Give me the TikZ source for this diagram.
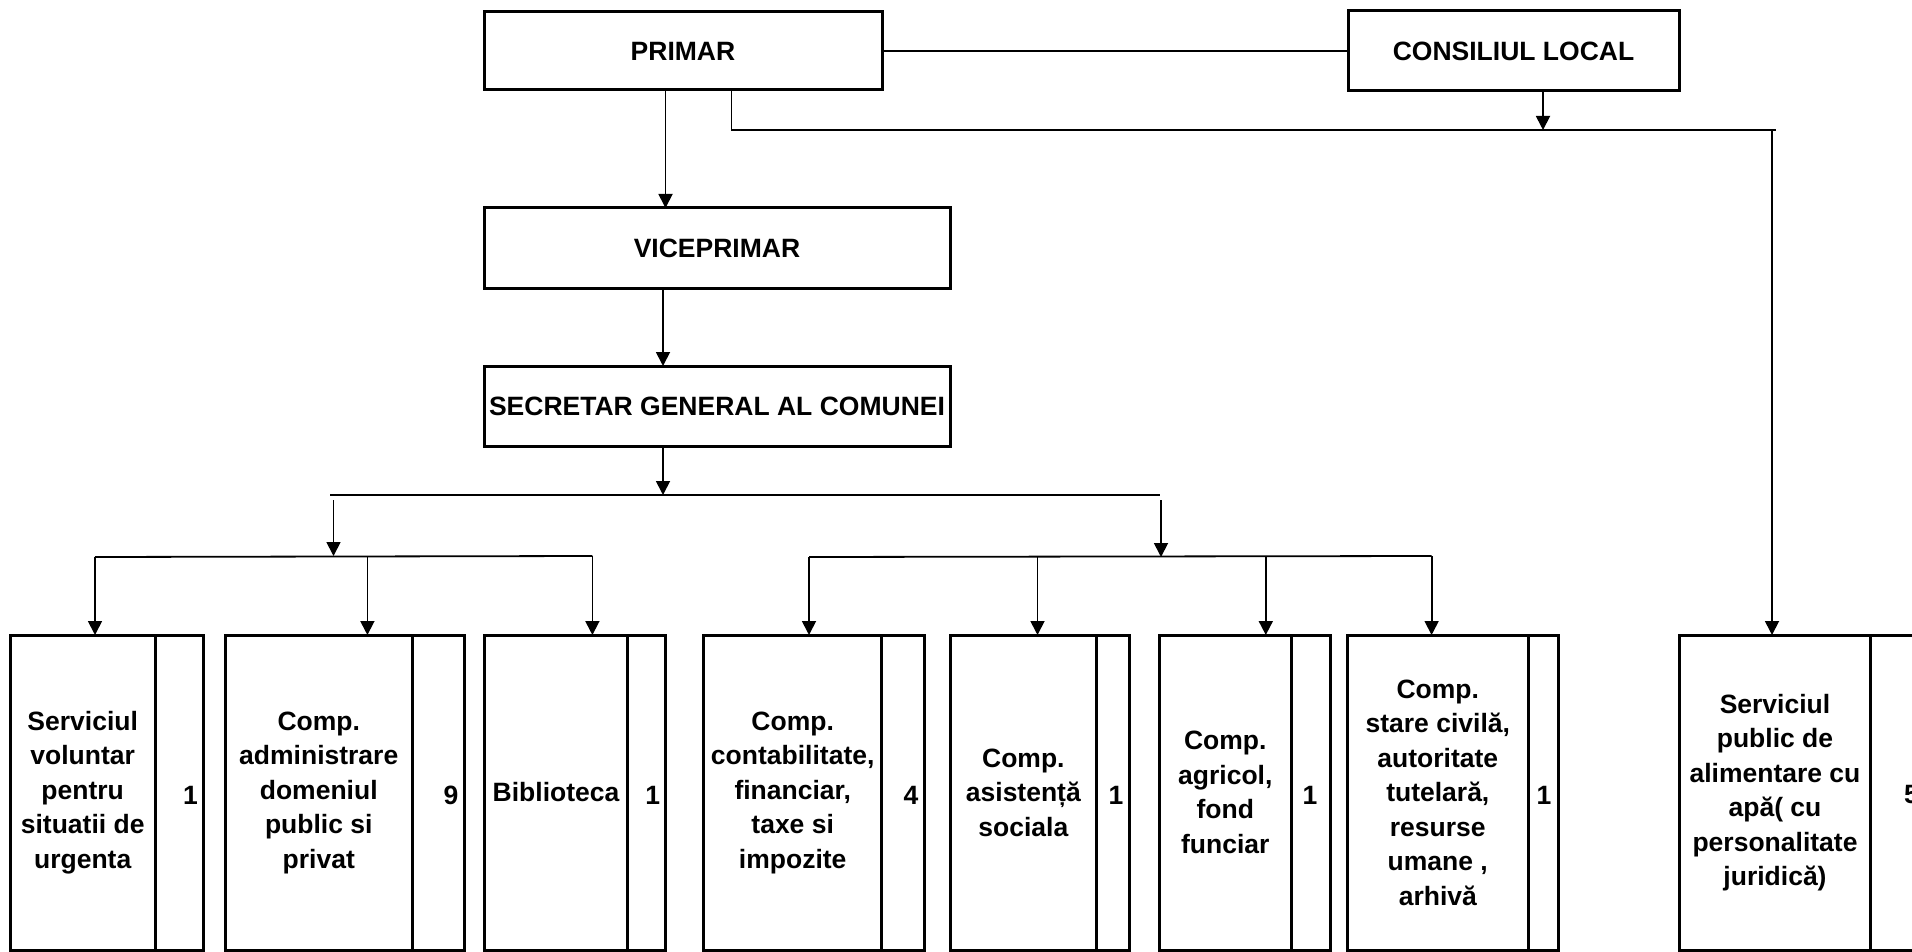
\documentclass[tikz,border=0pt]{standalone}
\usepackage{fontspec}
\setmainfont{Liberation Sans}
\usetikzlibrary{arrows.meta}
\begin{document}
\begin{tikzpicture}[x=1pt,y=-1pt,
  box/.style={draw, line width=3pt, inner sep=0pt, outer sep=0pt, anchor=north west, align=center,
              font=\fontsize{26.5}{34.5}\selectfont\bfseries},
  num/.style={inner sep=0pt, font=\fontsize{26.5}{34.5}\selectfont\bfseries},
  conn/.style={line width=1.8pt},
  arr/.style={conn, -{Triangle[length=14pt,width=14pt]}}]
\useasboundingbox[fill=white] (0,0) rectangle (1912,952);

% top boxes
\node[box, minimum width=398pt, minimum height=78pt] (primar) at (484,12) {PRIMAR};
\node[box, minimum width=331pt, minimum height=80pt] (consiliu) at (1348,11) {CONSILIUL LOCAL};
\node[box, minimum width=466pt, minimum height=80pt] (vice) at (484,208) {VICEPRIMAR};
\node[box, minimum width=466pt, minimum height=80pt] (secretar) at (484,366) {SECRETAR GENERAL AL COMUNEI};

% bottom boxes
\node[box, minimum width=145.4pt, minimum height=315pt] (s1) at (10,635) {Serviciul\\voluntar\\pentru\\situatii de\\urgenta};
\node[box, minimum width=48.2pt, minimum height=315pt] (c1) at (155.4,635) {};
\node[num] (t1) at (190.6,795) {1};

\node[box, minimum width=187.5pt, minimum height=315pt] (s2) at (225,635) {Comp.\\administrare\\domeniul\\public si\\privat};
\node[box, minimum width=52.2pt, minimum height=315pt] (c2) at (412.5,635) {};
\node[num] (t2) at (451,795) {9};

\node[box, minimum width=143.3pt, minimum height=315pt] (s3) at (484.4,635) {Biblioteca};
\node[box, minimum width=37.3pt, minimum height=315pt] (c3) at (627.7,635) {};
\node[num] (t3) at (652.7,795) {1};

\node[box, minimum width=178.4pt, minimum height=315pt] (s4) at (703.5,635) {Comp.\\contabilitate,\\financiar,\\taxe si\\impozite};
\node[box, minimum width=42.1pt, minimum height=315pt] (c4) at (881.9,635) {};
\node[num] (t4) at (911,795) {4};

\node[box, minimum width=145.3pt, minimum height=315pt] (s5) at (950.7,635) {Comp.\\asistență\\sociala};
\node[box, minimum width=33.6pt, minimum height=315pt] (c5) at (1096,635) {};
\node[num] (t5) at (1116,795) {1};

\node[box, minimum width=131.4pt, minimum height=315pt] (s6) at (1159.6,635) {Comp.\\agricol,\\fond\\funciar};
\node[box, minimum width=39pt, minimum height=315pt] (c6) at (1291,635) {};
\node[num] (t6) at (1310,795) {1};

\node[box, minimum width=180.4pt, minimum height=315pt] (s7) at (1347.6,635) {Comp.\\stare civilă,\\autoritate\\tutelară,\\resurse\\umane ,\\arhivă};
\node[box, minimum width=30.4pt, minimum height=315pt] (c7) at (1528,635) {};
\node[num] (t7) at (1544,795) {1};

\node[box, minimum width=191.2pt, minimum height=315pt] (s8) at (1679.4,635) {Serviciul\\public de\\alimentare cu\\apă( cu\\personalitate\\juridică)};
\node[box, minimum width=60pt, minimum height=315pt] (c8) at (1870.6,635) {};
\node[num, anchor=west] (t8) at (1904,795) {5};

% junction coordinates
\coordinate (jR) at (1772,130);
\coordinate (bL) at (330,495);
\coordinate (bR) at (1160,495);
\coordinate (gLtop) at (333.5,500);
\coordinate (gL) at (333.5,556);
\coordinate (gRtop) at (1161,500);
\coordinate (gR) at (1161,557);
\coordinate (l1) at (95,557);
\coordinate (l2) at (367.4,557);
\coordinate (l3) at (592.4,556);
\coordinate (r1) at (809,557);
\coordinate (r2) at (1037.5,557);
\coordinate (r3) at (1265.8,557);
\coordinate (r4) at (1431.6,556);

% top connectors
\draw[conn] (primar.east) -- (consiliu.west);
\draw[conn] ([xshift=48.5pt]primar.south) |- ([xshift=4pt]jR);
\draw[arr] ([xshift=29.5pt]consiliu.south) -- ([xshift=29.5pt]consiliu.south |- jR);
\draw[arr] (jR) -- (jR |- s8.north);
\draw[arr] ([xshift=-17.5pt]primar.south) -- ([xshift=-51.5pt]vice.north);
\draw[arr] ([xshift=-54pt]vice.south) -- ([xshift=-54pt]secretar.north);
\draw[arr] ([xshift=-54pt]secretar.south) -- ([xshift=-54pt]secretar.south |- bL);

% buses
\draw[conn] (bL) -- (bR);
\draw[arr] (gLtop) -- (gL);
\draw[arr] (gRtop) -- (gR);
\draw[conn] (l1) -- (l3);
\draw[conn] (r1) -- (r4);

% arrows into boxes
\draw[arr] (l1) -- (l1 |- s1.north);
\draw[arr] (l2) -- (l2 |- s2.north);
\draw[arr] (l3) -- (l3 |- s3.north);
\draw[arr] (r1) -- (r1 |- s4.north);
\draw[arr] (r2) -- (r2 |- s5.north);
\draw[arr] (r3) -- (r3 |- s6.north);
\draw[arr] (r4) -- (r4 |- s7.north);
\end{tikzpicture}
\end{document}
